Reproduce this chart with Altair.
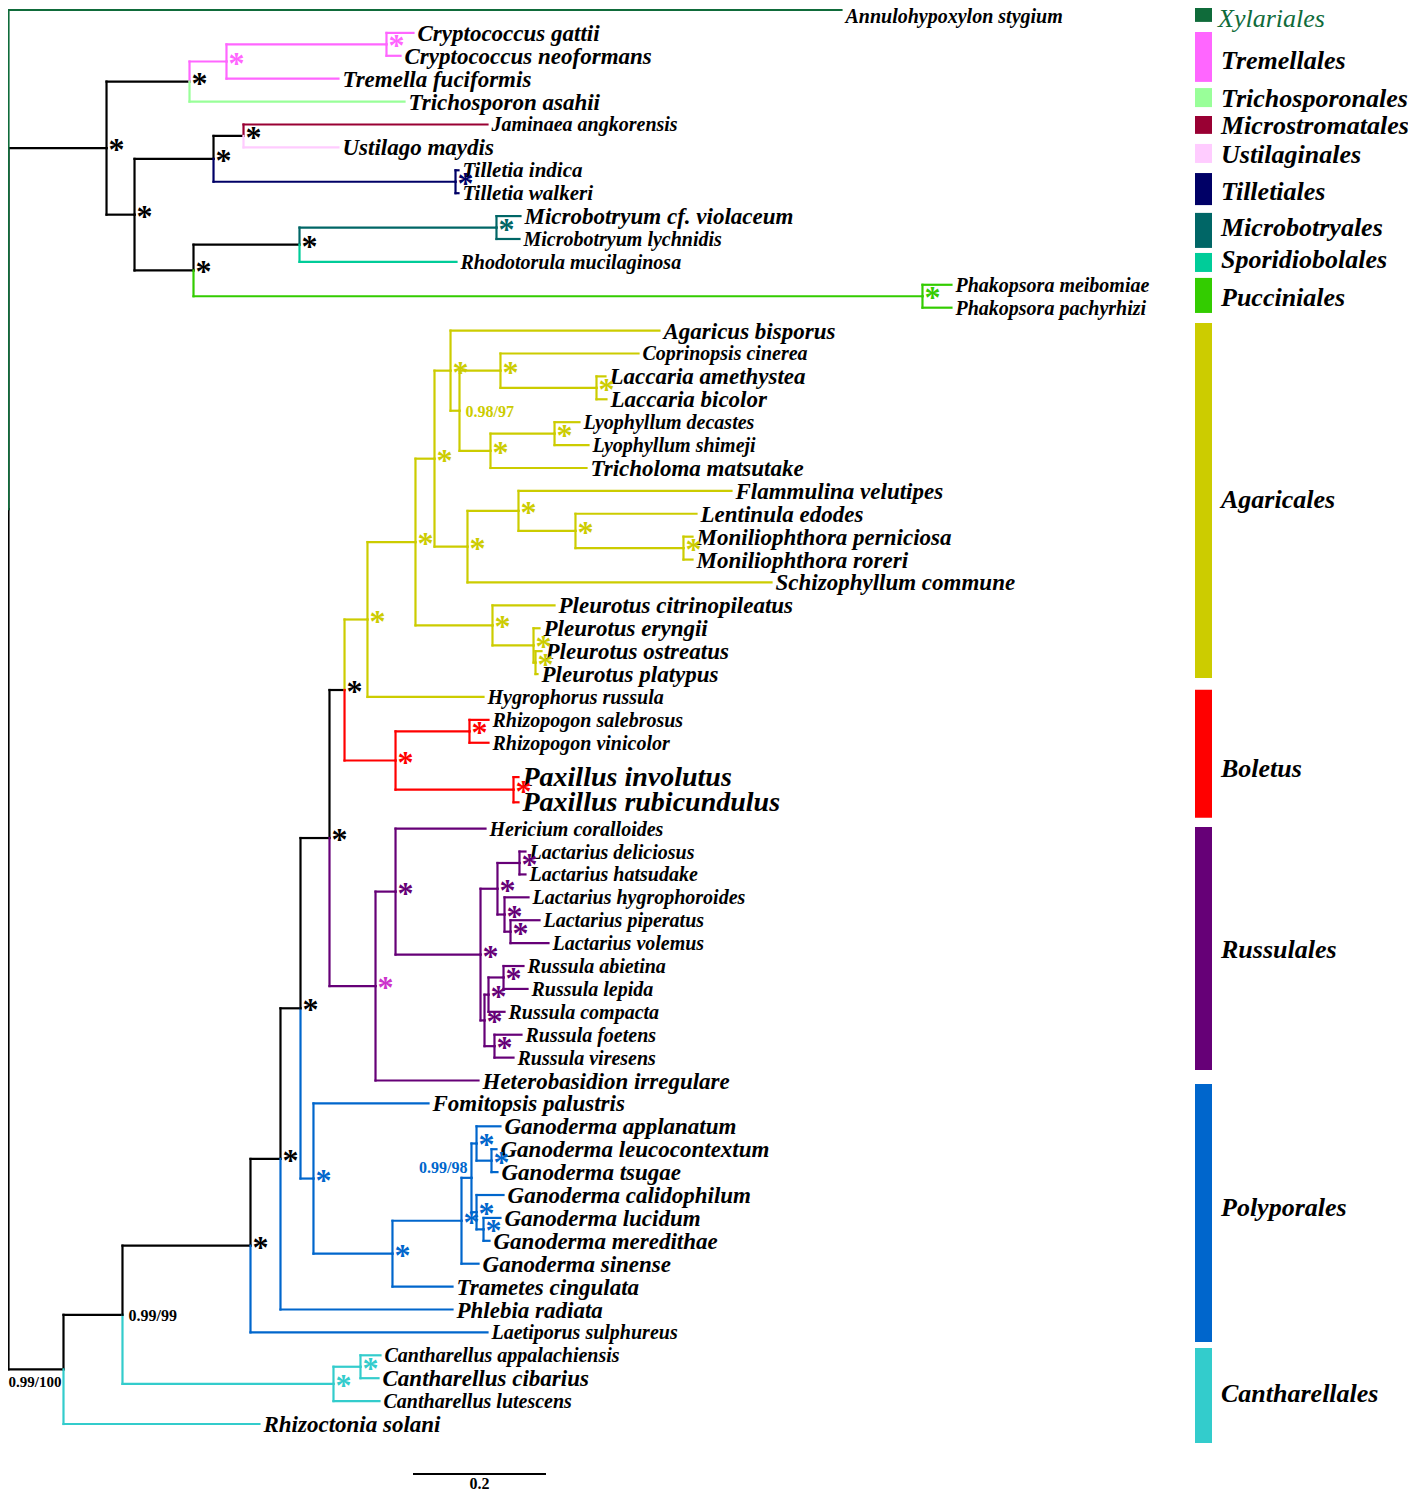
import altair as alt
import pandas as pd

# ---------------- data ----------------
# tip taxa (top to bottom)
TIP_NAMES = [
    "Annulohypoxylon stygium", "Cryptococcus gattii", "Cryptococcus neoformans",
    "Tremella fuciformis", "Trichosporon asahii", "Jaminaea angkorensis",
    "Ustilago maydis", "Tilletia indica", "Tilletia walkeri",
    "Microbotryum cf. violaceum", "Microbotryum lychnidis", "Rhodotorula mucilaginosa",
    "Phakopsora meibomiae", "Phakopsora pachyrhizi", "Agaricus bisporus",
    "Coprinopsis cinerea", "Laccaria amethystea", "Laccaria bicolor",
    "Lyophyllum decastes", "Lyophyllum shimeji", "Tricholoma matsutake",
    "Flammulina velutipes", "Lentinula edodes", "Moniliophthora perniciosa",
    "Moniliophthora roreri", "Schizophyllum commune", "Pleurotus citrinopileatus",
    "Pleurotus eryngii", "Pleurotus ostreatus", "Pleurotus platypus",
    "Hygrophorus russula", "Rhizopogon salebrosus", "Rhizopogon vinicolor",
    "Paxillus involutus", "Paxillus rubicundulus", "Hericium coralloides",
    "Lactarius deliciosus", "Lactarius hatsudake", "Lactarius hygrophoroides",
    "Lactarius piperatus", "Lactarius volemus", "Russula abietina",
    "Russula lepida", "Russula compacta", "Russula foetens", "Russula viresens",
    "Heterobasidion irregulare", "Fomitopsis palustris", "Ganoderma applanatum",
    "Ganoderma leucocontextum", "Ganoderma tsugae", "Ganoderma calidophilum",
    "Ganoderma lucidum", "Ganoderma meredithae", "Ganoderma sinense",
    "Trametes cingulata", "Phlebia radiata", "Laetiporus sulphureus",
    "Cantharellus appalachiensis", "Cantharellus cibarius", "Cantharellus lutescens",
    "Rhizoctonia solani",
]
TIP_PARENT = [
    "root", "n_cry", "n_cry", "n_trem", "n_tt", "n_jam_ust", "n_jam_ust", "n_till", "n_till",
    "n_micro", "n_micro", "n_mr", "n_phak", "n_phak", "AG3", "AG5", "n_lacc", "n_lacc",
    "n_lyo", "n_lyo", "AG6", "AG7", "AG8", "n_moni", "n_moni", "AGm", "n_pleu", "Pl2",
    "Pl3", "Pl3", "AG0", "n_rhizo", "n_rhizo", "n_pax", "n_pax", "R1", "L1", "L1", "L2",
    "L3", "L3", "Ru2", "Ru2", "Ru1", "Ru3", "Ru3", "R0", "P1", "Gapp", "Glt", "Glt",
    "Gcal", "Glm", "Glm", "G0", "P2", "nodeF", "nodeE", "n_canth2", "n_canth2", "n_canth",
    "nodeC",
]
# distance from root (substitutions/site) of each tip
TIP_DEPTH = [
    1.2526, 0.6090, 0.5895, 0.4962, 0.5955, 0.7203, 0.4962, 0.6767, 0.6767,
    0.7699, 0.7684, 0.6737, 1.4180, 1.4180, 0.9789, 0.9474, 0.8977, 0.8992,
    0.8586, 0.8722, 0.8692, 1.0872, 1.0346, 1.0286, 1.0286, 1.1474, 0.8211, 0.7985,
    0.8015, 0.7955, 0.7143, 0.7218, 0.7218, 0.7669, 0.7669, 0.7173, 0.7774, 0.7774,
    0.7820, 0.7985, 0.8120, 0.7744, 0.7805, 0.7459, 0.7714, 0.7594, 0.7068, 0.6316,
    0.7398, 0.7338, 0.7353, 0.7444, 0.7398, 0.7233, 0.7068, 0.6677, 0.6677, 0.7203,
    0.5594, 0.5564, 0.5579, 0.3774,
]
TIP_CLADE = [
    "Xylariales", "Tremellales", "Tremellales", "Tremellales", "Trichosporonales",
    "Microstromatales", "Ustilaginales", "Tilletiales", "Tilletiales",
    "Microbotryales", "Microbotryales", "Sporidiobolales", "Pucciniales", "Pucciniales",
] + ["Agaricales"] * 17 + ["Boletus"] * 4 + ["Russulales"] * 12 + ["Polyporales"] * 11 + [
    "Cantharellales"] * 4

# internal nodes: id, parent, depth, branch clade, support
NODE_ID = [
    "root", "nodeA", "n_tt", "n_trem", "n_cry", "nodeB", "n_ust3", "n_jam_ust", "n_till",
    "n_pucc", "n_mr", "n_micro", "n_phak", "nodeC", "nodeD", "n_canth", "n_canth2",
    "nodeE", "nodeF", "nodeG", "P1", "P2", "G0", "G1", "Gapp", "Glt", "Gcal", "Glm",
    "nodeH", "nodeI", "AG0", "AG1", "AG2", "AG3", "AG4", "AG5", "n_lacc", "AG6", "n_lyo",
    "AGm", "AG7", "AG8", "n_moni", "n_pleu", "Pl2", "Pl3", "n_bol", "n_rhizo", "n_pax",
    "R0", "R1", "R2", "L0", "L1", "L2", "L3", "Ru0", "Ru1", "Ru2", "Ru3",
]
NODE_PARENT = [
    None, "root", "nodeA", "n_tt", "n_trem", "nodeA", "nodeB", "n_ust3", "n_ust3",
    "nodeB", "n_pucc", "n_mr", "n_pucc", "root", "nodeC", "nodeD", "n_canth",
    "nodeD", "nodeE", "nodeF", "nodeG", "P1", "P2", "G0", "G1", "Gapp", "G1", "Gcal",
    "nodeG", "nodeH", "nodeI", "AG0", "AG1", "AG2", "AG3", "AG4", "AG5", "AG4", "AG6",
    "AG2", "AGm", "AG7", "AG8", "AG1", "n_pleu", "Pl2", "nodeI", "n_bol", "n_bol",
    "nodeH", "R0", "R1", "R2", "L0", "L0", "L2", "R2", "Ru0", "Ru1", "Ru0",
]
NODE_DEPTH = [
    0.0, 0.1474, 0.2722, 0.3278, 0.5684, 0.1895, 0.3083, 0.3534, 0.6722,
    0.2782, 0.4376, 0.7338, 1.3744, 0.0827, 0.1714, 0.4887, 0.5293,
    0.3639, 0.4090, 0.4391, 0.4586, 0.5774, 0.6812, 0.6962, 0.7038, 0.7263, 0.7038, 0.7143,
    0.4827, 0.5053, 0.5398, 0.6120, 0.6406, 0.6647, 0.6782, 0.7398, 0.8842, 0.7248, 0.8211,
    0.6902, 0.7669, 0.8526, 1.0150, 0.7278, 0.7895, 0.7925, 0.5820, 0.6932, 0.7594,
    0.5519, 0.5820, 0.7098, 0.7353, 0.7684, 0.7459, 0.7549, 0.7158, 0.7218, 0.7444, 0.7308,
]
NODE_CLADE = (
    ["Backbone", "Backbone", "Backbone", "Tremellales", "Tremellales", "Backbone", "Backbone",
     "Backbone", "Tilletiales", "Backbone", "Backbone", "Microbotryales", "Pucciniales",
     "Backbone", "Backbone", "Cantharellales", "Cantharellales", "Backbone", "Backbone",
     "Backbone"] + ["Polyporales"] * 8 + ["Backbone", "Backbone"] + ["Agaricales"] * 16
    + ["Boletus"] * 3 + ["Russulales"] * 11
)
NODE_SUPPORT = (
    ["", "*", "*", "*", "*", "*", "*", "*", "*", "*", "*", "*", "*", "0.99/100", "0.99/99",
     "*", "*", "*", "*", "*", "*", "*", "*", "0.99/98", "*", "*", "*", "*", "*", "*",
     "*", "*", "*", "*", "0.98/97"] + ["*"] * 25
)
SUPPORT_COLOR_OVERRIDE = {"R0": "Magenta"}

# legend (order names, bar extents and label position in tip-row units)
LEG_NAMES = ["Xylariales", "Tremellales", "Trichosporonales", "Microstromatales",
             "Ustilaginales", "Tilletiales", "Microbotryales", "Sporidiobolales",
             "Pucciniales", "Agaricales", "Boletus", "Russulales", "Polyporales",
             "Cantharellales"]
LEG_Y0 = [-0.31, 0.96, 3.41, 4.63, 5.85, 7.12, 8.86, 10.61, 11.70, 13.67, 29.69, 35.68, 46.90, 58.43]
LEG_Y1 = [0.52, 3.14, 4.24, 5.41, 6.68, 8.52, 10.39, 11.44, 13.23, 29.17, 35.28, 46.29, 58.17, 62.58]
LEG_LABEL_Y = [0.38, 2.23, 3.89, 5.07, 6.33, 7.95, 9.52, 10.92, 12.58, 21.40, 33.14, 41.05, 52.31, 60.44]

SCALE_LENGTH = 0.2
SCALE_LABEL = "0.2"

CLADE_COLORS = {
    "Backbone": "#000000", "Xylariales": "#0f6b3a", "Tremellales": "#ff66ff",
    "Trichosporonales": "#99ff99", "Microstromatales": "#990033", "Ustilaginales": "#ffccff",
    "Tilletiales": "#000066", "Microbotryales": "#006666", "Sporidiobolales": "#00cc99",
    "Pucciniales": "#33cc00", "Agaricales": "#cccc00", "Boletus": "#ff0000",
    "Russulales": "#660077", "Polyporales": "#0066cc", "Cantharellales": "#33cccc",
    "Magenta": "#cc33cc",
}

# ---------------- layout / style ----------------
W, H = 1400, 1485
PX_PER_UNIT = 665.0
ROW_FIRST_PAGE, ROW_LAST_PAGE = 10.0, 1424.0
EXTRA_GAP = {"Paxillus involutus": 0.5, "Paxillus rubicundulus": 0.1, "Hericium coralloides": 0.15}
CONDENSED = {
    "Annulohypoxylon stygium", "Jaminaea angkorensis", "Microbotryum lychnidis",
    "Rhodotorula mucilaginosa", "Phakopsora meibomiae", "Phakopsora pachyrhizi",
    "Coprinopsis cinerea", "Lyophyllum decastes", "Lyophyllum shimeji",
    "Hygrophorus russula", "Rhizopogon salebrosus", "Rhizopogon vinicolor",
    "Hericium coralloides", "Lactarius deliciosus", "Lactarius hatsudake",
    "Lactarius hygrophoroides", "Lactarius piperatus", "Lactarius volemus",
    "Russula abietina", "Russula lepida", "Russula compacta", "Russula foetens",
    "Russula viresens", "Laetiporus sulphureus", "Cantharellus appalachiensis",
    "Cantharellus lutescens",
}
SEMI_CONDENSED = {"Tilletia indica", "Tilletia walkeri"}
BIG = {"Paxillus involutus", "Paxillus rubicundulus"}
TOP_TIP = "Annulohypoxylon stygium"   # label nudged down so it is not clipped by the page top
FONT = "Liberation Serif"

# ---------------- tree geometry ----------------
rows, r = [], 0.0
for i, nm in enumerate(TIP_NAMES):
    if i > 0:
        r += 1.0 + EXTRA_GAP.get(nm, 0.0)
    rows.append(r)
px_per_row = (ROW_LAST_PAGE - ROW_FIRST_PAGE) / rows[-1]

pos = {}
children = {nid: [] for nid in NODE_ID}
for nm, par, d, row in zip(TIP_NAMES, TIP_PARENT, TIP_DEPTH, rows):
    pos[nm] = (d, row)
    children[par].append(nm)
for nid, par in zip(NODE_ID, NODE_PARENT):
    if par is not None:
        children[par].append(nid)
node_depth = dict(zip(NODE_ID, NODE_DEPTH))


def ypos(n):
    if n in pos:
        return pos[n][1]
    ys_ = [ypos(c) for c in children[n]]
    y = sum(ys_) / len(ys_)
    pos[n] = (node_depth[n], y)
    return y


ypos("root")

seg = []
items = [(nid, par, cl) for nid, par, cl in zip(NODE_ID, NODE_PARENT, NODE_CLADE) if par is not None]
items += list(zip(TIP_NAMES, TIP_PARENT, TIP_CLADE))
for k, (n, par, cl) in enumerate(items):
    px, py = pos[par]
    cx, cy = pos[n]
    seg.append({"x": px, "x2": cx, "y": cy, "y2": cy, "clade": cl, "o": 2 * k})
    seg.append({"x": px, "x2": px, "y": py, "y2": cy, "clade": cl, "o": 2 * k + 1})
seg_df = pd.DataFrame(seg)

tips_df = pd.DataFrame({
    "name": TIP_NAMES,
    "x": TIP_DEPTH,
    "y": rows,
    "fs": [28 if n in BIG else 20 if n in CONDENSED else 21 if n in SEMI_CONDENSED else 23
           for n in TIP_NAMES],
})

sup = []
for nid, sp, cl in zip(NODE_ID, NODE_SUPPORT, NODE_CLADE):
    if sp:
        sup.append({"id": nid, "x": pos[nid][0], "y": pos[nid][1], "t": sp,
                    "clade": SUPPORT_COLOR_OVERRIDE.get(nid, cl)})
sup_df = pd.DataFrame(sup)
star_df = sup_df[sup_df.t == "*"]
num_df = sup_df[sup_df.t != "*"]

leg_df = pd.DataFrame({"clade": LEG_NAMES, "y": LEG_Y0, "y2": LEG_Y1, "ly": LEG_LABEL_Y})

X0 = -0.5 / PX_PER_UNIT
X1 = X0 + W / PX_PER_UNIT
Y0 = -(ROW_FIRST_PAGE - 8) / px_per_row
Y1 = Y0 + H / px_per_row

xs = alt.Scale(domain=[X0, X1], nice=False, zero=False)
ys = alt.Scale(domain=[Y0, Y1], nice=False, zero=False, reverse=True)
cscale = alt.Scale(domain=list(CLADE_COLORS.keys()), range=list(CLADE_COLORS.values()))
color = alt.Color("clade:N", scale=cscale, legend=None)

X = lambda f="x": alt.X(f"{f}:Q", scale=xs, axis=None)
Y = lambda f="y": alt.Y(f"{f}:Q", scale=ys, axis=None)

branches = alt.Chart(seg_df).mark_rule(strokeWidth=2.2, strokeCap="square").encode(
    x=X(), x2="x2:Q", y=Y(), y2="y2:Q", color=color, order=alt.Order("o:Q"))

tip_style = dict(align="left", baseline="middle", dx=4, font=FONT, fontStyle="italic",
                 fontWeight="bold", color="black")
tip_text = alt.Chart(tips_df[tips_df.name != TOP_TIP]).mark_text(dy=1, **tip_style).encode(
    x=X(), y=Y(), text="name:N", size=alt.Size("fs:Q", scale=None, legend=None))
tip_top = alt.Chart(tips_df[tips_df.name == TOP_TIP]).mark_text(dy=7, **tip_style).encode(
    x=X(), y=Y(), text="name:N", size=alt.Size("fs:Q", scale=None, legend=None))

stars = alt.Chart(star_df).mark_text(
    align="center", baseline="alphabetic", dx=10, dy=12, font=FONT, fontSize=32,
    fontWeight="bold").encode(x=X(), y=Y(), text="t:N", color=color)

num_right = alt.Chart(num_df[num_df.id.isin(["AG4", "nodeD"])]).mark_text(
    align="left", baseline="middle", dx=6, dy=1, font=FONT, fontSize=16,
    fontWeight="bold").encode(x=X(), y=Y(), text="t:N", color=color)
num_left = alt.Chart(num_df[num_df.id == "G1"]).mark_text(
    align="right", baseline="middle", dx=-4, dy=-10, font=FONT, fontSize=16,
    fontWeight="bold").encode(x=X(), y=Y(), text="t:N", color=color)
num_below = alt.Chart(num_df[num_df.id == "nodeC"]).mark_text(
    align="right", baseline="middle", dx=-2, dy=13, font=FONT, fontSize=15,
    fontWeight="bold").encode(x=X(), y=Y(), text="t:N", color=color)

leg_bars = alt.Chart(leg_df).mark_rect().encode(
    x=alt.value(1187), x2=alt.value(1204), y=Y(), y2="y2:Q", color=color)
leg_text = alt.Chart(leg_df[leg_df.clade != "Xylariales"]).mark_text(
    align="left", baseline="middle", font=FONT, fontSize=26, fontStyle="italic",
    fontWeight="bold", color="black").encode(x=alt.value(1213), y=Y("ly"), text="clade:N")
leg_text_x = alt.Chart(leg_df[leg_df.clade == "Xylariales"]).mark_text(
    align="left", baseline="middle", font=FONT, fontSize=26, fontStyle="italic",
    fontWeight="normal").encode(x=alt.value(1210), y=Y("ly"), text="clade:N", color=color)

SCALE_X0 = (413 - 8.5) / PX_PER_UNIT
sb_df = pd.DataFrame({"x": [SCALE_X0], "x2": [SCALE_X0 + SCALE_LENGTH],
                      "xm": [SCALE_X0 + SCALE_LENGTH / 2],
                      "y": [(1474 - ROW_FIRST_PAGE) / px_per_row],
                      "ly": [(1484 - ROW_FIRST_PAGE) / px_per_row], "t": [SCALE_LABEL]})
sbar = alt.Chart(sb_df).mark_rule(strokeWidth=2.2, color="black").encode(
    x=X(), x2="x2:Q", y=Y())
stext = alt.Chart(sb_df).mark_text(
    align="center", baseline="middle", font=FONT, fontSize=16, fontWeight="bold",
    color="black").encode(x=X("xm"), y=Y("ly"), text="t:N")

chart = alt.layer(
    branches, tip_text, tip_top, stars, num_right, num_left, num_below,
    leg_bars, leg_text, leg_text_x, sbar, stext
).properties(
    width=W, height=H, padding=0, autosize=alt.AutoSizeParams(type="none")
).configure_view(stroke=None)

chart.save("out.html", embed_options={"renderer": "svg", "actions": False})
